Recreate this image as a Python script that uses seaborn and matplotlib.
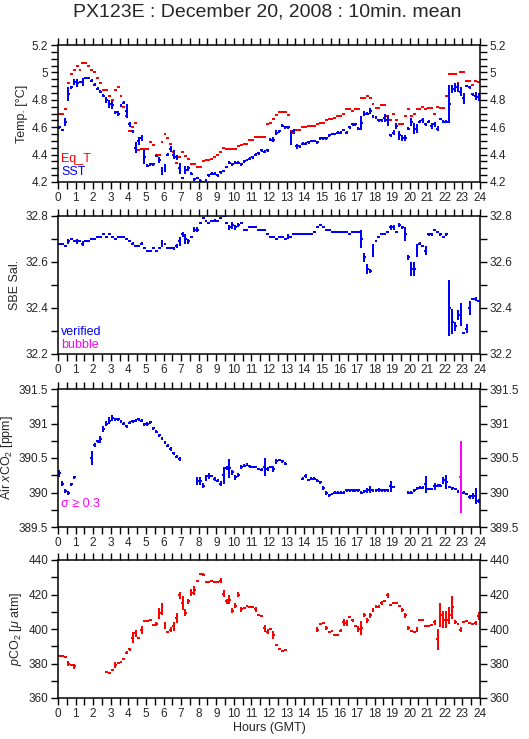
import numpy as np
import matplotlib
matplotlib.use("Agg")
import matplotlib.pyplot as plt
import seaborn as sns
from matplotlib.ticker import MultipleLocator, FuncFormatter

N = np.nan

# ---------------- data (10-minute means, 144 bins per day) ----------------
eq_t = [4.70, 4.70, 4.73, 4.92, 4.99, 5.02,
        5.05, 5.02, 5.07, 5.07, 5.05, 5.02,
        5.00, 4.96, 4.92, 4.87, 4.87, 4.83,
        4.80, 4.87, 4.89, 4.83, 4.75, 4.68,
        4.57, 4.60, 4.63, 4.43, 4.44, 4.44,
        4.44, 4.49, 4.47, 4.40, 4.40, 4.49,
        4.55, 4.52, 4.48, 4.42, 4.34, 4.38,
        4.42, 4.39, 4.37, 4.33, 4.33, 4.31,
        4.31, 4.35, 4.36, 4.36, 4.37, 4.38,
        4.40, 4.42, 4.45, 4.44, 4.44, 4.44,
        4.44, 4.46, 4.47, 4.48, 4.48, 4.51,
        4.51, 4.53, 4.53, 4.53, 4.53, 4.62,
        4.63, 4.66, 4.69, 4.71, 4.71, 4.71,
        4.69, 4.57, 4.56, 4.58, 4.58, 4.60,
        4.60, 4.61, 4.61, 4.61, 4.62, 4.63,
        4.63, 4.65, 4.66, 4.66, 4.67, 4.68,
        4.68, 4.70, 4.73, 4.73, 4.72, 4.73,
        4.73, 4.81, 4.81, 4.83, 4.81, 4.77,
        4.74, 4.74, 4.76, 4.76, 4.68, 4.65,
        4.70, 4.65, 4.62, 4.62, 4.68, 4.73,
        4.68, 4.70, 4.73, 4.73, 4.75, 4.73,
        4.74, 4.74, 4.70, 4.75, 4.74, 4.74,
        4.83, 4.99, 4.99, 4.99, 4.92, 5.00,
        5.00, 4.94, 4.94, 4.91, 4.94, 4.93]

sst = [4.60, 4.58, 4.64, 4.84, 4.89, 4.93,
       4.92, 4.93, 4.93, 4.96, 4.96, 4.94,
       4.91, 4.88, 4.86, 4.83, 4.80, 4.77,
       4.76, 4.71, 4.70, 4.76, 4.78, 4.72,
       4.62, 4.57, 4.45, 4.50, 4.52, 4.38,
       4.32, 4.33, 4.33, 4.39, 4.36, 4.28,
       4.30, 4.40, 4.44, 4.40, 4.38, 4.30,
       4.23, 4.29, 4.30, 4.26, 4.22, 4.23,
       4.21, 4.20, 4.21, 4.25, 4.26, 4.26,
       4.25, 4.27, 4.28, 4.31, 4.34, 4.33,
       4.34, 4.34, 4.33, 4.35, 4.36, 4.37,
       4.38, 4.40, 4.41, 4.43, 4.42, 4.43,
       4.51, 4.51, 4.56, 4.57, 4.61, 4.60,
       4.60, 4.52, 4.57, 4.46, 4.46, 4.48,
       4.48, 4.49, 4.50, 4.50, 4.49, 4.52,
       4.52, 4.52, 4.54, 4.55, 4.55, 4.56,
       4.56, 4.58, 4.56, 4.60, 4.62, 4.62,
       4.59, 4.63, 4.70, 4.70, 4.72, 4.68,
       4.67, 4.65, 4.65, 4.67, 4.65, 4.54,
       4.56, 4.61, 4.54, 4.52, 4.52, 4.59,
       4.64, 4.59, 4.59, 4.64, 4.65, 4.62,
       4.64, 4.61, 4.62, 4.59, 4.66, 4.64,
       4.64, 4.77, 4.88, 4.89, 4.89, 4.86,
       4.81, 4.90, 4.89, 4.84, 4.83, 4.82]

sst_err = [.01, .01, .03, .05, .01, .02,
           .03, .01, .03, .01, .01, .01,
           .01, .01, .01, .01, .02, .03,
           .03, .01, .02, .01, .01, .05,
           .02, .01, .04, .03, .02, .05,
           .01, .01, .01, .01, .02, .03,
           .03, .01, .02, .03, .02, .04,
           .01, .03, .02, .01, .01, .01,
           .01, .01, .01, .01, .01, .01,
           .01, .01, .01, .01, .01, .01,
           .01, .01, .01, .01, .01, .01,
           .01, .01, .01, .01, .01, .01,
           .01, .02, .02, .01, .01, .01,
           .01, .05, .02, .02, .01, .01,
           .01, .01, .01, .01, .01, .01,
           .01, .01, .01, .01, .01, .01,
           .01, .01, .01, .01, .01, .01,
           .01, .05, .02, .01, .02, .01,
           .01, .01, .01, .03, .04, .01,
           .02, .02, .03, .02, .02, .01,
           .03, .04, .03, .01, .02, .01,
           .01, .02, .02, .02, .01, .01,
           .01, .14, .03, .03, .03, .03,
           .04, .01, .01, .01, .03, .03]

sal = [32.68, 32.68, 32.67, 32.69, 32.70, 32.69,
       32.69, 32.69, 32.68, 32.69, 32.69, 32.70,
       32.70, 32.71, 32.71, 32.72, 32.71, 32.72,
       32.71, 32.70, 32.71, 32.71, 32.71, 32.70,
       32.69, 32.68, 32.67, 32.67, 32.68, 32.66,
       32.65, 32.65, 32.66, 32.65, 32.66, 32.68,
       32.68, 32.66, 32.66, 32.66, 32.67, 32.69,
       32.72, 32.70, 32.69, 32.71, 32.74, 32.74,
       32.77, 32.79, 32.78, 32.77, 32.78, 32.78,
       32.78, 32.79, 32.80, 32.77, 32.75, 32.76,
       32.75, 32.76, 32.77, 32.74, 32.74, 32.75,
       32.75, 32.75, 32.74, 32.74, 32.74, 32.72,
       32.71, 32.71, 32.70, 32.71, 32.71, 32.70,
       32.71, 32.71, 32.72, 32.72, 32.72, 32.72,
       32.72, 32.72, 32.72, 32.73, 32.75, 32.76,
       32.75, 32.74, 32.74, 32.73, 32.73, 32.73,
       32.73, 32.73, 32.73, 32.72, 32.73, 32.73,
       32.73, 32.70, 32.62, 32.57, 32.56, 32.65,
       32.69, 32.71, 32.72, 32.72, 32.73, 32.75,
       32.75, 32.73, 32.76, 32.75, 32.72, 32.62,
       32.57, 32.57, 32.65, 32.68, 32.67, 32.65,
       32.72, 32.72, 32.74, 32.73, 32.72, 32.71,
       32.72, 32.40, 32.34, 32.32, 32.37, 32.37,
       32.29, 32.31, 32.40, 32.44, 32.44, 32.43]

sal_err = [.003, .003, .003, .010, .005, .005,
           .010, .005, .010, .005, .004, .004,
           .004, .004, .004, .004, .004, .004,
           .004, .004, .004, .004, .004, .004,
           .004, .006, .006, .004, .006, .004,
           .004, .004, .004, .004, .004, .015,
           .004, .004, .004, .006, .010, .020,
           .010, .020, .010, .004, .010, .010,
           .006, .004, .004, .004, .004, .006,
           .004, .004, .004, .006, .010, .015,
           .010, .010, .004, .004, .004, .004,
           .004, .004, .004, .004, .004, .004,
           .004, .004, .004, .004, .004, .004,
           .010, .004, .004, .004, .004, .004,
           .004, .004, .004, .004, .004, .004,
           .004, .004, .004, .004, .004, .004,
           .004, .004, .004, .004, .004, .004,
           .003, .040, .020, .020, .010, .030,
           .004, .004, .004, .004, .006, .010,
           .010, .004, .010, .006, .030, .010,
           .030, .030, .030, .005, .005, .020,
           .005, .005, .005, .005, .005, .005,
           .005, .120, .055, .020, .020, .050,
           .005, .020, .030, .005, .010, .005]

xco2 = [390.28, 390.13, 390.02, 389.99, 390.12, 390.22,
        N, N, N, N, N, 390.50,
        390.69, 390.74, 390.77, 390.92, 391.00, 391.04,
        391.08, 391.06, 391.06, 391.03, 391.00, 390.96,
        391.01, 391.03, 391.04, 391.06, 391.04, 390.99,
        390.99, 391.02, 390.93, 390.88, 390.83, 390.78,
        390.72, 390.68, 390.63, 390.57, 390.52, 390.49,
        N, N, N, N, N, 390.17,
        390.17, 390.10, 390.21, 390.24, 390.24, 390.19,
        390.17, 390.13, 390.25, 390.36, 390.35, 390.29,
        390.22, 390.25, 390.37, 390.39, 390.41, 390.38,
        390.37, 390.37, 390.34, 390.33, 390.37, 390.34,
        390.37, 390.34, 390.45, 390.47, 390.45, 390.42,
        N, N, N, N, N, 390.20,
        390.24, 390.18, 390.20, 390.20, 390.17, 390.15,
        390.06, 389.99, 389.96, 389.98, 390.00, 390.00,
        390.00, 390.00, 390.03, 390.03, 390.03, 390.03,
        390.03, 390.00, 390.02, 390.03, 390.04, 390.03,
        390.03, 390.04, 390.03, 390.03, 390.03, 390.09,
        390.08, N, N, N, N, 390.00,
        390.00, 390.03, 390.06, 390.07, 390.07, 390.12,
        390.05, 390.05, 390.09, 390.10, 390.10, 390.18,
        390.15, 390.08, 390.06, 390.05, 390.01, 390.22,
        390.00, 389.98, 389.94, 389.95, 389.95, 389.88]

xco2_err = [.05, .04, .03, .03, .02, .02,
            0, 0, 0, 0, 0, .10,
            .03, .02, .05, .05, .03, .05,
            .05, .02, .02, .02, .02, .02,
            .02, .02, .02, .02, .02, .02,
            .03, .02, .02, .02, .02, .02,
            .02, .02, .03, .02, .02, .03,
            0, 0, 0, 0, 0, .06,
            .06, .04, .05, .04, .02, .03,
            .02, .03, .12, .03, .14, .03,
            .04, .03, .03, .02, .02, .02,
            .02, .02, .02, .02, .13, .03,
            .02, .04, .03, .02, .02, .02,
            0, 0, 0, 0, 0, .02,
            .03, .02, .02, .02, .02, .02,
            .03, .03, .02, .02, .02, .02,
            .02, .02, .02, .02, .02, .02,
            .02, .02, .02, .03, .05, .02,
            .02, .03, .02, .02, .02, .08,
            .02, 0, 0, 0, 0, .02,
            .02, .02, .02, .02, .02, .12,
            .02, .02, .05, .02, .02, .05,
            .10, .02, .02, .02, .02, .52,
            .02, .02, .03, .05, .12, .03]

pco2 = [384.3, 384.4, 384.0, 380.0, 379.2, 378.3,
        N, N, N, N, N, N,
        N, N, N, N, 374.8, 374.7,
        376.4, 379.1, 380.5, 381.0, 382.8, 386.3,
        388.2, 395.0, 397.5, 395.0, 399.5, 404.8,
        404.8, 405.3, 402.5, 403.0, 409.0, 411.5,
        402.0, 398.0, 399.5, 401.5, 406.5, 419.5,
        415.0, 409.5, 416.0, 421.0, 422.5, 428.0,
        432.0, 431.5, 427.0, 427.0, 428.0, 427.5,
        427.5, 428.0, 420.5, 416.0, 417.0, 410.5,
        413.5, 420.0, 411.5, 412.0, 413.5, 412.5,
        412.5, 411.5, 408.0, 407.5, 400.5, 398.5,
        400.0, 396.5, 391.0, 388.5, 387.5, 388.0,
        N, N, N, N, N, N,
        N, N, N, N, 399.5, 403.0,
        403.5, 400.5, 398.5, 399.0, 396.5, 396.5,
        399.0, 404.0, 403.5, 407.0, 405.0, 402.0,
        400.0, 400.5, 408.0, 405.0, 408.0, 411.0,
        413.0, 413.0, 415.0, 416.0, 419.5, 414.0,
        415.0, 415.0, 413.5, 411.0, 408.0, 400.5,
        399.0, 398.5, 399.5, 405.0, 405.5, 402.0,
        401.5, 402.5, 404.0, 394.0, 408.0, 405.5,
        405.5, 408.0, 412.5, 404.0, 403.0, 399.5,
        404.0, 404.5, 403.5, 403.0, 403.5, 407.5]

pco2_err = [.5, .5, .5, 1.5, .5, 1.5,
            0, 0, 0, 0, 0, 0,
            0, 0, 0, 0, .5, .5,
            .5, 1.5, .5, .5, .5, 1.0,
            1.0, 3.0, 2.0, .5, 2.5, .5,
            .5, .5, .5, 1.0, 3.0, 3.5,
            2.0, .5, 1.5, 2.5, 3.0, 2.0,
            4.0, 2.0, 1.5, 2.0, 2.5, .5,
            .5, 1.0, .5, .5, .5, .5,
            .5, 1.5, 2.0, 1.5, 2.5, 1.5,
            1.5, 1.5, 1.5, .5, .5, .5,
            .5, 1.5, .5, .5, 2.0, 1.5,
            .5, 2.5, .5, .5, .5, .5,
            0, 0, 0, 0, 0, 0,
            0, 0, 0, 0, 1.5, .5,
            .5, 1.0, .5, .5, .5, .5,
            1.0, 2.0, 1.5, .5, 1.0, .5,
            1.5, 4.0, 1.0, 1.5, 1.5, 1.0,
            1.0, 1.0, 1.0, .5, 1.5, .5,
            .5, .5, .5, 1.0, 1.5, 1.0,
            .5, .5, 1.5, .5, .5, .5,
            .5, .5, 1.5, 6.0, 7.0, 5.0,
            5.0, 5.0, 6.5, 1.0, .5, 1.5,
            .5, .5, .5, .5, 1.0, 2.5]

hour_ticks = list(range(0, 25))

# ---------------- style ----------------
sns.set_theme(style="ticks")
plt.rcParams['font.family'] = ['Liberation Sans', 'DejaVu Sans']
plt.rcParams['mathtext.fontset'] = 'custom'
plt.rcParams['mathtext.rm'] = 'Liberation Sans'
plt.rcParams['mathtext.it'] = 'Liberation Sans:italic'

BLUE = '#0000ff'
RED = '#ff0000'
MAG = '#ff00ff'

t = np.arange(144) / 6.0 + 1.0 / 12.0   # bin centres (hours)
half = 1.0 / 12.0

fig = plt.figure(figsize=(5.29, 7.39), dpi=100)
L, W = 58 / 529, (480 - 58) / 529
def pos(top, bottom):
    return [L, 1 - bottom / 739, W, (bottom - top) / 739]

axes = [fig.add_axes(pos(45, 182)), fig.add_axes(pos(216, 354)),
        fig.add_axes(pos(389, 527)), fig.add_axes(pos(560, 698))]

fmt = FuncFormatter(lambda v, p: '%g' % round(v, 3))

def style(ax, ylim, major, minor, ylabel):
    ax.set_xlim(0, 24)
    ax.set_ylim(*ylim)
    ax.set_xticks(hour_ticks)
    ax.xaxis.set_minor_locator(MultipleLocator(0.5))
    ax.yaxis.set_major_locator(MultipleLocator(major))
    ax.yaxis.set_minor_locator(MultipleLocator(minor))
    ax.yaxis.set_major_formatter(fmt)
    ax.tick_params(which='both', direction='out', top=True, right=True,
                   labelright=True, length=5, width=1.0, color='black',
                   labelsize=8.5, pad=2)
    ax.tick_params(which='minor', length=5)
    for s in ax.spines.values():
        s.set_linewidth(1.1)
        s.set_color('black')
    ax.set_ylabel(ylabel, fontsize=9, labelpad=3)
    ax.grid(False)

def draw(ax, y, yerr, color):
    y = np.asarray(y, float)
    e = np.asarray(yerr, float)
    ok = ~np.isnan(y)
    cont = ax.errorbar(t[ok], y[ok], xerr=half, yerr=e[ok], fmt='none',
                       ecolor=color, elinewidth=1.44, capsize=0)
    for coll in cont.lines[2]:
        coll.set_antialiased(False)

# Panel 1: temperatures
ax = axes[0]
draw(ax, eq_t, np.zeros(144), RED)
draw(ax, sst, sst_err, BLUE)
style(ax, (4.2, 5.2), 0.2, 0.05, 'Temp. [°C]')
ax.text(0.007, 0.17, 'Eq_T', color=RED, transform=ax.transAxes, fontsize=9, va='center')
ax.text(0.007, 0.07, 'SST', color=BLUE, transform=ax.transAxes, fontsize=9, va='center')

# Panel 2: salinity
ax = axes[1]
draw(ax, sal, sal_err, BLUE)
style(ax, (32.2, 32.8), 0.2, 0.1, 'SBE Sal.')
ax.text(0.007, 0.16, 'verified', color=BLUE, transform=ax.transAxes, fontsize=9, va='center')
ax.text(0.007, 0.065, 'bubble', color=MAG, transform=ax.transAxes, fontsize=9, va='center')

# Panel 3: air xCO2  (magenta when sigma >= 0.3)
ax = axes[2]
xv = np.asarray(xco2, float)
xe = np.asarray(xco2_err, float)
big = xe >= 0.3
draw(ax, np.where(big, np.nan, xv), xe, BLUE)
draw(ax, np.where(big, xv, np.nan), xe, MAG)
style(ax, (389.5, 391.5), 0.5, 0.25, 'Air $x$CO$_2$ [ppm]')
ax.text(0.007, 0.17, 'σ ≥ 0.3', color=MAG, transform=ax.transAxes, fontsize=9, va='center')

# Panel 4: pCO2
ax = axes[3]
draw(ax, pco2, pco2_err, RED)
style(ax, (360, 440), 20, 10, '$p$CO$_2$ [$\\mu$ atm]')
ax.set_xlabel('Hours (GMT)', fontsize=9, labelpad=2)

fig.suptitle('PX123E : December 20, 2008 : 10min. mean', fontsize=14,
             x=0.505, y=0.995, va='top')

fig.savefig('out.png', dpi=100)
